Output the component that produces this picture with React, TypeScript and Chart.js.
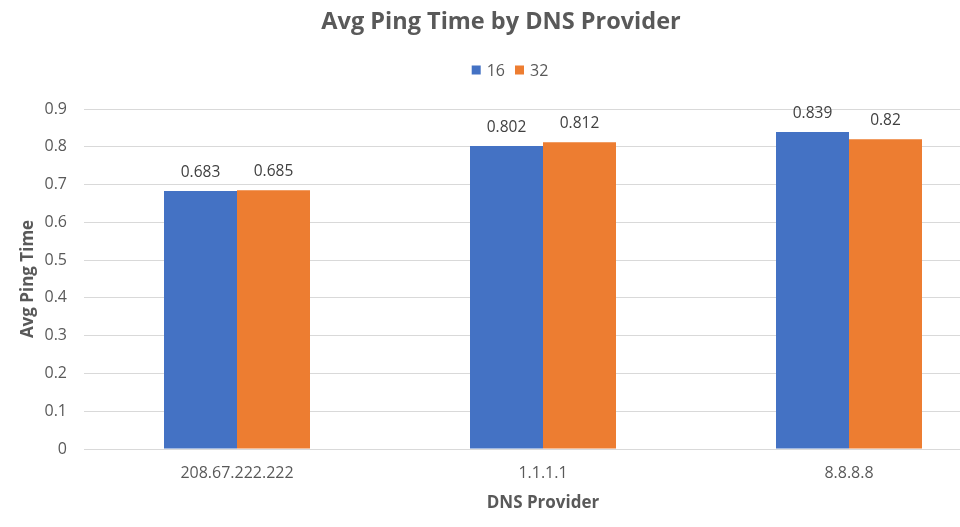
import React, { useEffect, useRef } from "react";
import { Chart, registerables } from "chart.js";

Chart.register(...registerables);

const categories = ["208.67.222.222", "1.1.1.1", "8.8.8.8"];
const seriesLabels = ["16", "32"];
const series16 = [0.683, 0.802, 0.839];
const series32 = [0.685, 0.812, 0.82];
const yTicks = [0, 0.1, 0.2, 0.3, 0.4, 0.5, 0.6, 0.7, 0.8, 0.9];
const colors = ["#4472C4", "#ED7D31"];

const FONT = "'Open Sans', 'Noto Sans', sans-serif";
const GREY = "#595959";

const dataLabels = {
  id: "dataLabels",
  afterDatasetsDraw(chart: any) {
    const ctx = chart.ctx;
    ctx.save();
    ctx.font = `15.5px ${FONT}`;
    ctx.fillStyle = "#404040";
    ctx.textAlign = "center";
    ctx.textBaseline = "alphabetic";
    chart.data.datasets.forEach((ds: any, i: number) => {
      const meta = chart.getDatasetMeta(i);
      meta.data.forEach((bar: any, j: number) => {
        ctx.fillText(String(ds.data[j]), bar.x, bar.y - 14);
      });
    });
    ctx.restore();
  },
};

const customLegend = {
  id: "customLegend",
  afterDraw(chart: any) {
    const ctx = chart.ctx;
    ctx.save();
    ctx.font = `16px ${FONT}`;
    ctx.textBaseline = "middle";
    const box = 9;
    const gapBoxText = 6;
    const gapItems = 10;
    const items = chart.data.datasets.map((ds: any) => ({
      label: ds.label,
      color: ds.backgroundColor,
      w: ctx.measureText(ds.label).width,
    }));
    let total = 0;
    items.forEach((it: any, i: number) => {
      total += box + gapBoxText + it.w + (i < items.length - 1 ? gapItems : 0);
    });
    let x = chart.width / 2 + 4 - total / 2;
    const cy = 70;
    items.forEach((it: any) => {
      ctx.fillStyle = it.color;
      ctx.fillRect(x, cy - box / 2, box, box);
      x += box + gapBoxText;
      ctx.fillStyle = GREY;
      ctx.textAlign = "left";
      ctx.fillText(it.label, x, cy + 1);
      x += it.w + gapItems;
    });
    ctx.restore();
  },
};

export default function App() {
  const ref = useRef<HTMLCanvasElement>(null);
  useEffect(() => {
    document.body.style.margin = "0";
    const chart = new Chart(ref.current!, {
      type: "bar",
      data: {
        labels: categories,
        datasets: [
          { label: seriesLabels[0], data: series16, backgroundColor: colors[0] },
          { label: seriesLabels[1], data: series32, backgroundColor: colors[1] },
        ],
      },
      options: {
        animation: false,
        responsive: false,
        layout: { padding: { left: 0, right: 10, top: 0, bottom: 0 } },
        datasets: { bar: { categoryPercentage: 146 / 306, barPercentage: 1 } } as any,
        plugins: {
          title: {
            display: true,
            text: "Avg Ping Time by DNS Provider",
            color: GREY,
            font: { family: FONT, size: 23.5, weight: "bold" },
            padding: { top: 8, bottom: 72.8 },
          },
          legend: { display: false },
          tooltip: { enabled: false },
        },
        scales: {
          x: {
            afterFit: (axis: any) => {
              axis.height = 78;
            },
            grid: { display: false },
            border: { display: false },
            ticks: { color: GREY, font: { family: FONT, size: 16 }, padding: 7 },
            title: {
              display: true,
              text: "DNS Provider",
              color: GREY,
              font: { family: FONT, size: 17, weight: "bold" },
              padding: { top: 0, bottom: 14 },
            },
          },
          y: {
            min: 0,
            max: 0.9,
            afterFit: (axis: any) => {
              axis.width = 84;
            },
            afterBuildTicks: (axis: any) => {
              axis.ticks = yTicks.map((v) => ({ value: v }));
            },
            grid: { color: "#d9d9d9", lineWidth: 1, drawTicks: false },
            border: { display: false },
            ticks: {
              color: GREY,
              font: { family: FONT, size: 16 },
              padding: 17,
              callback: (v: any) => String(Math.round(Number(v) * 10) / 10),
            },
            title: {
              display: true,
              text: "Avg Ping Time",
              color: GREY,
              font: { family: FONT, size: 17, weight: "bold" },
              padding: { top: 18, bottom: 0 },
            },
          },
        },
      },
      plugins: [dataLabels, customLegend],
    });
    return () => chart.destroy();
  }, []);
  return (
    <div style={{ width: 960, height: 527, overflow: "hidden" }}>
      <canvas ref={ref} width={1012} height={527} style={{ display: "block" }} />
    </div>
  );
}
